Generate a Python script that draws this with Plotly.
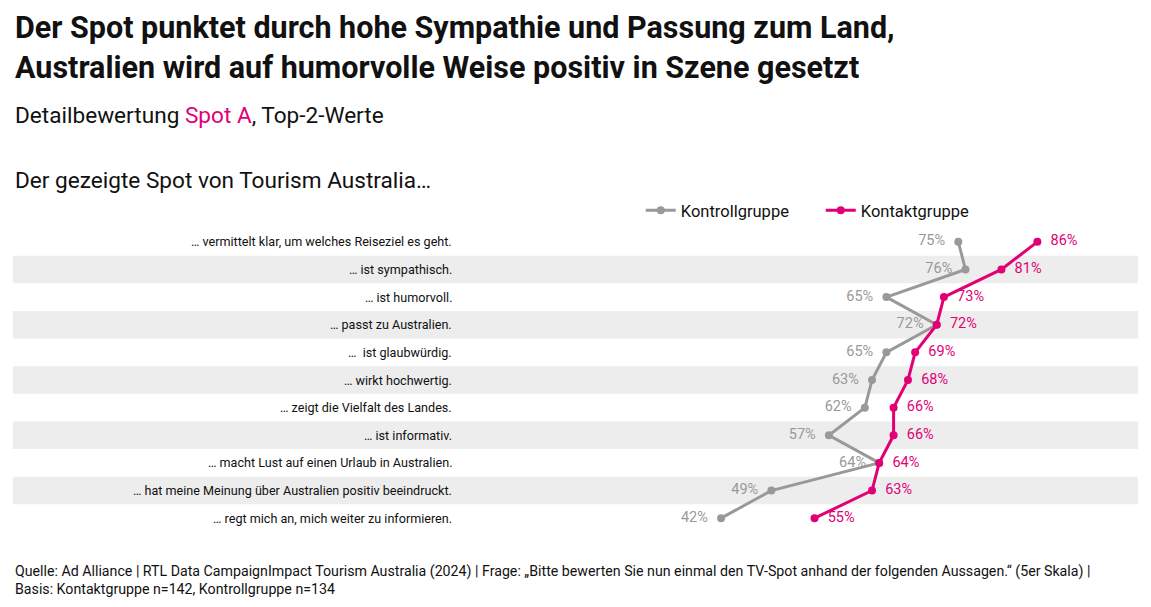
import plotly.graph_objects as go

statements = [
    "… vermittelt klar, um welches Reiseziel es geht.",
    "… ist sympathisch.",
    "… ist humorvoll.",
    "… passt zu Australien.",
    "…  ist glaubwürdig.",
    "… wirkt hochwertig.",
    "… zeigt die Vielfalt des Landes.",
    "… ist informativ.",
    "… macht Lust auf einen Urlaub in Australien.",
    "… hat meine Meinung über Australien positiv beeindruckt.",
    "… regt mich an, mich weiter zu informieren.",
]
kontakt = [86, 81, 73, 72, 69, 68, 66, 66, 64, 63, 55]
kontroll = [75, 76, 65, 72, 65, 63, 62, 57, 64, 49, 42]

MAGENTA = "#E20074"
GREY = "#999999"
FONT = "Roboto"

rows = list(range(len(statements)))
x_min, x_max = -56.5, 100

fig = go.Figure()
fig.add_trace(go.Scatter(x=kontroll, y=rows, name="Kontrollgruppe", mode="lines+markers+text",
                         line={'color': GREY, 'width': 3}, marker={'color': GREY, 'size': 8},
                         text=[f"{v}%  " for v in kontroll], textposition="middle left",
                         textfont={'color': GREY, 'size': 14.5}))
fig.add_trace(go.Scatter(x=kontakt, y=rows, name="Kontaktgruppe", mode="lines+markers+text",
                         line={'color': MAGENTA, 'width': 3}, marker={'color': MAGENTA, 'size': 8},
                         text=[f"  {v}%" for v in kontakt], textposition="middle right",
                         textfont={'color': MAGENTA, 'size': 14.5}))

shapes = []
for i in rows:
    if i % 2 == 1:
        shapes.append(dict(type="rect", xref="x", yref="y", x0=x_min, x1=x_max, y0=i - 0.5, y1=i + 0.5,
                           fillcolor="#EDEDED", line={'width': 0}, layer="below"))

annotations = []
for i, s in enumerate(statements):
    annotations.append(dict(x=4.9, y=i, xref="x", yref="y", text=s, showarrow=False, xanchor="right",
                            font={'size': 12.6, 'color': "#111"}))

annotations += [
    dict(x=0, y=1, xref="paper", yref="paper", yshift=141, xanchor="left", yanchor="bottom", showarrow=False,
         align="left", text="<b>Der Spot punktet durch hohe Sympathie und Passung zum Land,<br>"
                            "Australien wird auf humorvolle Weise positiv in Szene gesetzt</b>",
         font={'size': 30.5, 'color': "#111"}),
    dict(x=0, y=1, xref="paper", yref="paper", yshift=97, xanchor="left", yanchor="bottom", showarrow=False,
         text=f"Detailbewertung <span style='color:{MAGENTA}'>Spot A</span>, Top-2-Werte",
         font={'size': 22.6, 'color': "#111"}),
    dict(x=0, y=1, xref="paper", yref="paper", yshift=32, xanchor="left", yanchor="bottom", showarrow=False,
         text="Der gezeigte Spot von Tourism Australia…", font={'size': 22.6, 'color': "#111"}),
    dict(x=0, y=0, xref="paper", yref="paper", yshift=-29, xanchor="left", yanchor="top", showarrow=False,
         align="left",
         text="Quelle: Ad Alliance | RTL Data CampaignImpact Tourism Australia (2024) | Frage: „Bitte bewerten Sie "
              "nun einmal den TV-Spot anhand der folgenden Aussagen.“ (5er Skala) |<br>"
              "Basis: Kontaktgruppe n=142, Kontrollgruppe n=134",
         font={'size': 14.2, 'color': "#111"}),
]

fig.update_layout(margin={'l': 5, 'r': 5, 't': 220, 'b': 67},
                  plot_bgcolor="white", paper_bgcolor="white", font={'family': FONT},
                  xaxis={'range': [x_min, x_max], 'visible': False, 'fixedrange': True},
                  yaxis={'range': [10.5, -0.5], 'visible': False},
                  shapes=shapes, annotations=annotations,
                  legend={'orientation': 'h', 'x': 0.558, 'y': 1.0, 'yanchor': 'bottom', 'xanchor': 'left',
                          'font': {'size': 16.5, 'color': "#111"}, 'entrywidth': 135},
                  showlegend=True)

fig.write_html("out.html", default_width="100%", default_height="calc(100vh - 16px)")
